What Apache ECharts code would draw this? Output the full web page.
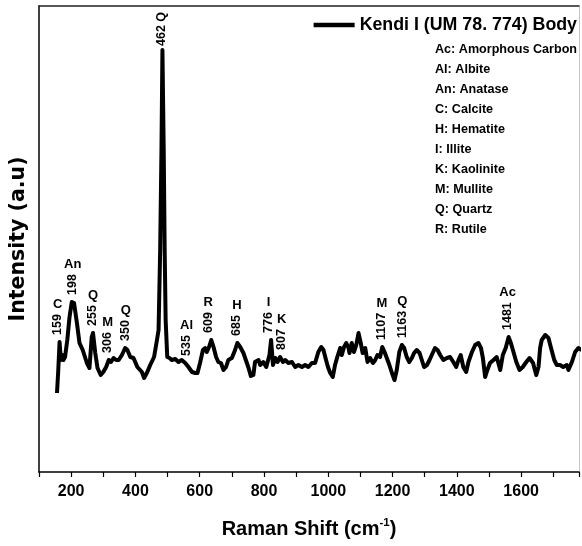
<!DOCTYPE html>
<html><head><meta charset="utf-8">
<script src="https://cdn.jsdelivr.net/npm/echarts@6/dist/echarts.min.js"></script>
<style>html,body{margin:0;padding:0;background:#fff}#c{width:582px;height:546px}</style>
</head><body><div id="c"></div>
<script>
const seriesName = 'Kendi I (UM 78. 774) Body';
const ramanShift = [156,160,164,168,172,176,181,188,195,202,209,218,226,236,249,257,264,268,275,282,292,300,309,317,324,332,340,348,358,368,375,384,394,406,420,427,437,446,458,467,472,477,481,484,488,491,494,499,506,513,524,534,544,555,565,576,586,593,601,610,617,622,629,636,643,651,658,666,674,682,689,700,710,717,726,736,752,759,767,772,783,788,798,807,817,822,828,835,842,850,859,866,876,887,897,907,918,928,938,949,959,969,978,985,993,999,1006,1014,1021,1028,1037,1042,1049,1056,1063,1066,1073,1080,1087,1094,1101,1107,1115,1122,1130,1139,1146,1153,1161,1168,1175,1182,1190,1198,1206,1213,1221,1229,1236,1244,1252,1260,1267,1275,1284,1291,1298,1307,1315,1322,1332,1340,1348,1358,1369,1379,1389,1398,1405,1412,1420,1429,1436,1447,1457,1467,1475,1481,1488,1495,1503,1514,1524,1535,1543,1552,1561,1568,1577,1585,1595,1605,1616,1626,1637,1647,1654,1659,1664,1675,1685,1693,1703,1711,1721,1731,1742,1747,1758,1768,1778,1789];
const intensity = [79,102,130,112,117,112,115,132,155,170,169,149,129,122,109,104,135,139,119,104,97,100,105,112,110,114,112,112,117,124,122,115,114,105,100,94,100,107,115,132,142,222,322,422,322,222,152,115,114,112,113,110,112,109,105,100,99,99,109,122,124,120,125,132,125,115,110,109,102,105,112,114,122,129,125,119,104,96,97,110,112,107,110,105,117,132,107,114,110,115,110,112,109,110,105,107,105,107,105,109,109,120,125,122,112,105,99,95,107,115,124,117,125,129,124,119,129,120,127,139,129,119,124,110,114,109,112,117,115,125,120,114,107,99,92,102,120,127,124,115,110,114,119,122,119,112,105,107,112,117,124,122,117,112,114,115,110,105,112,117,105,100,110,120,127,129,124,114,95,102,109,112,115,102,117,124,135,129,119,110,102,105,110,114,109,97,105,124,132,137,134,124,112,107,107,105,107,102,110,120,124,122];
const peakShift = [158,205,268,314,370,482,559,626,716,814,855,1167,1230,1558];
const peakLabel = ['159','198','255','306','350','462','535','609','685','776','807','1107','1163','1481'];
const peakPhase = ['C','An','Q','M','Q','Q','Al','R','H','I','K','M','Q','Ac'];
const phaseKey = ['Ac: Amorphous Carbon','Al: Albite','An: Anatase','C: Calcite','H: Hematite','I: Illite','K: Kaolinite','M: Mullite','Q: Quartz','R: Rutile'];
const xTickLabels = [200,400,600,800,1000,1200,1400,1600];

const SANS = '"Liberation Sans", Arial, sans-serif';
const NUM_SIZE = 12.5, LET_SIZE = 13;
const cv = document.createElement('canvas').getContext('2d');
function textW(t, size, fam){ cv.font = 'bold ' + size + 'px ' + fam; return cv.measureText(t).width; }

const curve = ramanShift.map((x, i) => [x, intensity[i]]);
function localMax(x){ let m = -Infinity; ramanShift.forEach((w, i) => { if (Math.abs(w - x) <= 14 && intensity[i] > m) m = intensity[i]; }); return m; }
const GAP = 7;
const numData = [], letData = [];
peakShift.forEach((x, i) => {
  const y = localMax(x);
  const tall = y > 400;
  numData.push({ value: [x, y], label: { formatter: tall ? peakLabel[i] + ' ' + peakPhase[i] : peakLabel[i], distance: tall ? 4 : GAP } });
  if (!tall) letData.push({ value: [x, y], label: { formatter: peakPhase[i], distance: GAP + textW(peakLabel[i], NUM_SIZE, SANS) + 3 } });
});

const chart = echarts.init(document.getElementById('c'));
chart.setOption({
  animation: false,
  backgroundColor: '#fff',
  title: {
    text: phaseKey.join('\n'), left: 430, top: 35,
    textStyle: { fontSize: 12.6, fontWeight: 'bold', fontFamily: SANS, lineHeight: 20, color: '#000' }
  },
  legend: {
    data: [{ name: seriesName, icon: 'rect' }], right: 0, top: 11, itemWidth: 41, itemHeight: 4.5,
    selectedMode: false,
    textStyle: { fontSize: 17.8, fontWeight: 'bold', fontFamily: SANS, color: '#000' }
  },
  grid: { left: 39, right: 3, top: 6, bottom: 74 },
  xAxis: [{
    type: 'value', min: 100, max: 1780, interval: 100,
    axisLine: { lineStyle: { color: '#000', width: 1.5 } },
    axisTick: { show: true, length: 5, lineStyle: { color: '#000', width: 1.2 } },
    splitLine: { show: false },
    axisLabel: { margin: 12, color: '#000', fontSize: 16, fontWeight: 'bold', fontFamily: SANS,
      formatter: v => xTickLabels.indexOf(v) >= 0 ? String(v) : '' },
    name: 'Raman Shift (cm{sup|-1})', nameLocation: 'middle', nameGap: 45,
    nameTextStyle: { fontSize: 20, fontWeight: 'bold', fontFamily: SANS, color: '#000', lineHeight: 24,
      rich: { sup: { fontSize: 11.5, fontWeight: 'bold', fontFamily: SANS, color: '#000', verticalAlign: 'top', lineHeight: 12 } } }
  }, {
    type: 'value', position: 'top', min: 100, max: 1780,
    axisLine: { show: true, onZero: false, lineStyle: { color: '#222', width: 1.5 } },
    axisTick: { show: false }, axisLabel: { show: false }, splitLine: { show: false }
  }],
  yAxis: [{
    type: 'value', min: 0, max: 466,
    axisLine: { show: true, lineStyle: { color: '#000', width: 1.5 } },
    axisTick: { show: false }, axisLabel: { show: false }, splitLine: { show: false },
    name: 'Intensity (a.u)', nameLocation: 'middle', nameGap: 10,
    nameTextStyle: { fontSize: 20.5, fontWeight: 'bold', fontFamily: '"DejaVu Sans", sans-serif', color: '#000' }
  }, {
    type: 'value', position: 'right', min: 0, max: 466,
    axisLine: { show: true, onZero: false, lineStyle: { color: '#c8c8c8', width: 1 } },
    axisTick: { show: false }, axisLabel: { show: false }, splitLine: { show: false }
  }],
  series: [{
    name: seriesName, type: 'line', data: curve, showSymbol: false, symbol: 'none',
    lineStyle: { color: '#000', width: 4, join: 'round' }, itemStyle: { color: '#000' }, silent: true
  }, {
    type: 'scatter', data: numData, symbolSize: 0, silent: true, itemStyle: { opacity: 1, color: '#000' },
    label: { show: true, position: 'top', rotate: 90, align: 'left', verticalAlign: 'middle', opacity: 1,
      fontSize: NUM_SIZE, fontWeight: 'bold', fontFamily: SANS, color: '#000' }
  }, {
    type: 'scatter', data: letData, symbolSize: 0, silent: true, itemStyle: { opacity: 1, color: '#000' },
    label: { show: true, position: 'top', align: 'center', verticalAlign: 'bottom', opacity: 1,
      fontSize: LET_SIZE, fontWeight: 'bold', fontFamily: SANS, color: '#000' }
  }]
});
</script></body></html>
